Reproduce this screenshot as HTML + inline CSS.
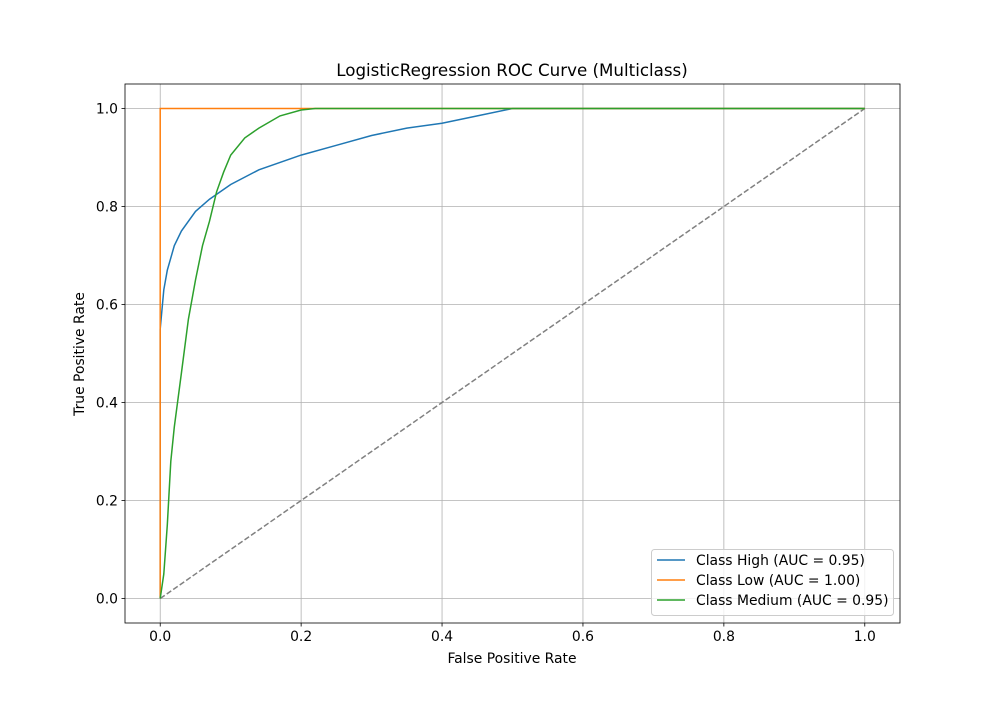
<!DOCTYPE html>
<html><head><meta charset="utf-8"><style>
body{margin:0;background:#fff;}
svg{font-family:"DejaVu Sans","Liberation Sans",sans-serif;}
</style></head><body>
<svg id="chart" width="1000" height="700">
<rect width="1000" height="700" fill="#fff"/>
<g id="grid"></g><g id="series"></g><g id="axes"></g>
<text x="512" y="76" text-anchor="middle" font-size="16.7">LogisticRegression ROC Curve (Multiclass)</text>
<text x="512" y="663" text-anchor="middle" font-size="13.9">False Positive Rate</text>
<text transform="translate(84,354) rotate(-90)" text-anchor="middle" font-size="13.9">True Positive Rate</text>
<g id="legend"></g>
</svg>
<script>
const xTicks=[0,0.2,0.4,0.6,0.8,1.0];
const yTicks=[0,0.2,0.4,0.6,0.8,1.0];
const tickLabels=["0.0","0.2","0.4","0.6","0.8","1.0"];
const seriesNames=["Class High (AUC = 0.95)","Class Low (AUC = 1.00)","Class Medium (AUC = 0.95)"];
const highFpr=[0,0,0.005,0.01,0.02,0.03,0.05,0.07,0.1,0.14,0.2,0.25,0.3,0.35,0.4,0.45,0.5,1];
const highTpr=[0,0.55,0.63,0.67,0.72,0.75,0.79,0.815,0.845,0.875,0.905,0.925,0.945,0.96,0.97,0.985,1,1];
const lowFpr=[0,0,1];
const lowTpr=[0,1,1];
const medFpr=[0,0.005,0.01,0.015,0.02,0.03,0.04,0.05,0.06,0.07,0.08,0.09,0.1,0.12,0.14,0.17,0.2,0.22,1];
const medTpr=[0,0.05,0.15,0.28,0.35,0.46,0.57,0.65,0.72,0.77,0.83,0.87,0.905,0.94,0.96,0.985,0.997,1,1];
const colors=["#1f77b4","#ff7f0e","#2ca02c"];
const L=125,R=900,T=84,B=623;
const X=v=>L+(v+0.05)/1.1*(R-L);
const Y=v=>B-(v+0.05)/1.1*(B-T);
const NS="http://www.w3.org/2000/svg";
function mk(tag,attrs,parent){const e=document.createElementNS(NS,tag);for(const k in attrs)e.setAttribute(k,attrs[k]);document.getElementById(parent).appendChild(e);return e;}
xTicks.forEach((t,i)=>{
 const g=mk("line",{x1:X(t),x2:X(t),y1:T,y2:B,stroke:"#b0b0b0","stroke-width":0.8},"grid");
 
 
 mk("line",{x1:X(t),x2:X(t),y1:B,y2:B+3.5,stroke:"#000","stroke-width":0.8},"axes");
 const tx=mk("text",{x:X(t),y:B+18,"text-anchor":"middle","font-size":"13.9"},"axes");
 tx.textContent=tickLabels[i];
 
 
});
yTicks.forEach((t,i)=>{
 const g=mk("line",{x1:L,x2:R,y1:Y(t),y2:Y(t),stroke:"#b0b0b0","stroke-width":0.8},"grid");
 
 
 mk("line",{x1:L-3.5,x2:L,y1:Y(t),y2:Y(t),stroke:"#000","stroke-width":0.8},"axes");
 const tx=mk("text",{x:L-7,y:Y(t)+5,"text-anchor":"end","font-size":"13.9"},"axes");
 tx.textContent=tickLabels[i];
 
 
});
const diag=mk("line",{x1:X(0),y1:Y(0),x2:X(1),y2:Y(1),stroke:"#808080","stroke-width":1.5,"stroke-dasharray":"5.5,2.4"},"series");


const data=[[highFpr,highTpr],[lowFpr,lowTpr],[medFpr,medTpr]];
const names=["roc-high","roc-low","roc-medium"];
data.forEach((d,i)=>{
 const pts=d[0].map((x,j)=>X(x).toFixed(1)+","+Y(d[1][j]).toFixed(1)).join(" ");
 const p=mk("polyline",{points:pts,fill:"none",stroke:colors[i],"stroke-width":1.5},"series");
 
 
});
const frame=mk("rect",{x:L,y:T,width:R-L,height:B-T,fill:"none",stroke:"#000","stroke-width":0.8},"axes");


const lb=mk("rect",{x:651.5,y:549.5,width:242,height:66,rx:3,fill:"#fff","fill-opacity":0.8,stroke:"#ccc"},"legend");


seriesNames.forEach((n,i)=>{
 const y=560+i*20;
 const l=mk("line",{x1:657,x2:685,y1:y,y2:y,stroke:colors[i],"stroke-width":1.5},"legend");
 
 
 const t=mk("text",{x:696,y:y+5,"font-size":"13.9"},"legend");
 t.textContent=n;
 
 
});
</script>
</body></html>
